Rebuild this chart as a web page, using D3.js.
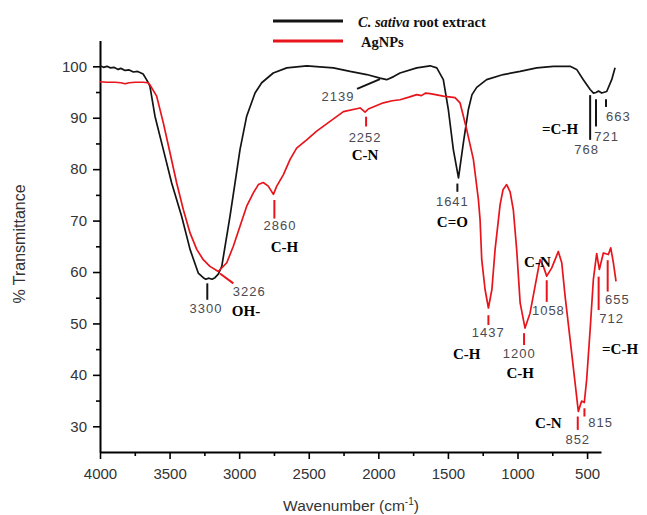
<!DOCTYPE html>
<html>
<head>
<meta charset="utf-8">
<script src="https://cdn.jsdelivr.net/npm/d3@7"></script>
<style>
  body { margin: 0; background: #fff; }
  svg { display: block; }
</style>
</head>
<body>
<svg id="chart" width="647" height="515"></svg>
<script>
// FTIR spectra: [wavenumber (cm-1), % transmittance]
const extractSpectrum = [
  [4000,100.1],[3975,99.8],[3950,100.0],[3925,99.7],[3900,99.8],[3870,99.4],[3850,99.6],
  [3820,99.2],[3790,99.3],[3760,98.9],[3730,99.0],[3705,98.7],[3690,98.5],[3670,97.6],
  [3655,96.9],[3641,96.1],[3605,90.3],[3545,83.8],[3485,77.3],[3413,70.8],[3353,64.4],
  [3294,59.8],[3258,58.9],[3240,58.6],[3217,58.8],[3195,58.6],[3174,58.9],[3150,59.6],
  [3125,61.1],[3066,70.8],[3030,77.3],[2994,83.8],[2946,90.3],[2886,94.8],[2838,96.8],
  [2755,98.7],[2658,99.7],[2514,100.1],[2420,99.9],[2323,99.7],[2203,99.0],[2083,98.4],
  [1988,97.7],[1940,97.4],[1890,98.0],[1844,98.7],[1724,99.7],[1628,100.1],[1580,99.7],
  [1533,97.4],[1497,91.6],[1461,83.8],[1424,78.3],[1389,85.1],[1353,91.6],[1327,94.5],
  [1293,95.9],[1222,97.4],[1102,98.4],[981,99.0],[862,99.7],[742,100.0],[622,100.0],
  [575,99.4],[527,97.4],[478,95.5],[454,94.8],[436,94.9],[418,95.2],[395,94.8],
  [359,95.1],[323,97.4],[299,99.7]
];

const agnpSpectrum = [
  [4000,97.0],[3950,96.9],[3892,96.9],[3850,96.8],[3820,96.6],[3790,96.8],[3748,96.9],
  [3691,96.9],[3655,96.8],[3641,96.4],[3593,94.2],[3545,89.0],[3497,83.2],[3449,77.3],
  [3401,72.1],[3353,67.6],[3305,64.4],[3258,62.4],[3210,61.1],[3150,60.1],[3089,61.8],
  [3042,65.0],[2994,68.9],[2946,72.8],[2898,75.4],[2862,77.0],[2827,77.4],[2791,76.7],
  [2754,75.1],[2730,76.7],[2683,78.9],[2634,81.9],[2587,84.1],[2515,85.7],[2443,87.4],
  [2347,89.3],[2251,91.2],[2131,91.9],[2095,91.1],[2072,91.7],[1964,92.9],[1900,93.3],
  [1844,93.5],[1780,94.0],[1724,94.5],[1690,94.3],[1660,94.8],[1628,94.7],[1533,94.2],
  [1449,93.9],[1413,92.9],[1365,87.7],[1317,81.9],[1281,74.1],[1269,70.2],[1257,62.4],
  [1233,56.6],[1209,53.0],[1184,56.6],[1161,64.4],[1137,70.2],[1125,73.1],[1104,76.0],
  [1078,77.0],[1053,75.6],[1030,72.1],[1006,64.4],[981,54.0],[946,49.1],[910,52.0],
  [874,57.2],[838,62.4],[814,61.1],[790,59.2],[754,60.8],[730,62.4],[707,64.0],
  [682,61.8],[658,55.3],[622,46.9],[586,38.4],[563,32.9],[539,34.9],[520,34.6],
  [503,39.1],[478,48.8],[455,58.5],[431,63.6],[412,60.5],[383,63.7],[347,63.4],
  [330,64.7],[311,61.8],[292,58.2]
];

const seriesNames = ["root extract", "AgNPs"];
const xMajorTicks = [4000, 3500, 3000, 2500, 2000, 1500, 1000, 500];
const xMinorTicks = [3750, 3250, 2750, 2250, 1750, 1250, 750];
const yMajorTicks = [30, 40, 50, 60, 70, 80, 90, 100];
const yMinorTicks = [35, 45, 55, 65, 75, 85, 95];

// Peak marker segments: [wn1, T1, wn2, T2, series]
const peakMarks = [
  [2153, 95.6, 1988, 97.5, 0],
  [1432, 77.2, 1432, 75.6, 0],
  [478, 94.4, 478, 85.7, 0],
  [436, 93.6, 436, 88.3, 0],
  [364, 93.6, 364, 92.1, 0],
  [3229, 57.8, 3229, 54.6, 0],
  [2088, 90.2, 2088, 88.3, 1],
  [2747, 74.0, 2747, 70.4, 1],
  [3138, 59.7, 3042, 57.8, 1],
  [1209, 51.6, 1209, 49.7, 1],
  [953, 48.1, 953, 45.8, 1],
  [790, 58.4, 790, 54.2, 1],
  [417, 59.1, 417, 52.6, 1],
  [352, 62.3, 352, 56.2, 1],
  [567, 31.9, 567, 29.3, 1],
  [519, 33.5, 519, 31.9, 1]
];

// Peak wavenumber labels: [text, wn, T]
const peakLabels = [
  ["2139", 2290, 94.1], ["2252", 2095, 86.2], ["1641", 1468, 73.7],
  ["768", 503, 83.9], ["721", 359, 86.4], ["663", 275, 90.2],
  ["2860", 2706, 69.0], ["3300", 3239, 52.9], ["3226", 2927, 56.2],
  ["1437", 1210, 48.2], ["1200", 987, 44.1], ["1058", 778, 52.6],
  ["655", 283, 54.7], ["712", 323, 51.0], ["852", 567, 27.5], ["815", 402, 30.7]
];

// Functional group labels: [text, wn, T]
const groupLabels = [
  ["C-N", 2095, 82.8], ["C=O", 1468, 69.8], ["=C-H", 694, 87.9],
  ["C-H", 2675, 64.9], ["OH-", 2951, 52.5], ["C-H", 1365, 44.1],
  ["C-H", 981, 40.4], ["C-N", 857, 61.9], ["=C-H", 263, 45.0], ["C-N", 778, 30.6]
];

const colors = ["#141414", "#e8141b"];

const svg = d3.select("#chart");
const x = d3.scaleLinear().domain([4000, 400]).range([100, 601]);
const y = d3.scaleLinear().domain([25, 105]).range([452, 40.6]);

const sans = "'Liberation Sans', Arial, Helvetica, sans-serif";
const serif = "'Liberation Serif', 'Times New Roman', serif";

// Axes
const xAxis = svg.append("g").attr("transform", "translate(0,452)")
  .call(d3.axisBottom(x).tickValues(xMajorTicks).tickSize(7).tickSizeOuter(0).tickPadding(9)
    .tickFormat(d3.format("d")));
svg.append("g").attr("transform", "translate(0,452)")
  .call(d3.axisBottom(x).tickValues(xMinorTicks).tickSize(4).tickSizeOuter(0).tickFormat(""))
  .select(".domain").remove();

const yAxis = svg.append("g").attr("transform", "translate(100,0)")
  .call(d3.axisLeft(y).tickValues(yMajorTicks).tickSize(7).tickSizeOuter(0).tickPadding(6)
    .tickFormat(d3.format("d")));
svg.append("g").attr("transform", "translate(100,0)")
  .call(d3.axisLeft(y).tickValues(yMinorTicks).tickSize(4).tickSizeOuter(0).tickFormat(""))
  .select(".domain").remove();

svg.selectAll(".domain").attr("stroke", "#000").attr("stroke-width", 2);
svg.selectAll(".tick line").attr("stroke", "#000").attr("stroke-width", 1.6);
svg.selectAll(".tick text").attr("font-family", sans).attr("font-size", 15).attr("fill", "#333");

// Axis titles
const xTitle = svg.append("text")
  .attr("x", 351).attr("y", 511)
  .attr("text-anchor", "middle")
  .attr("font-family", sans).attr("font-size", 15.5).attr("fill", "#333");
xTitle.append("tspan").text("Wavenumber (cm");
xTitle.append("tspan").attr("dy", -6).attr("font-size", 10).text("-1");
xTitle.append("tspan").attr("dy", 6).text(")");

svg.append("text")
  .attr("transform", "translate(25,244) rotate(-90)")
  .attr("text-anchor", "middle")
  .attr("font-family", sans).attr("font-size", 16).attr("fill", "#333")
  .text("% Transmittance");

// Spectra
const line = d3.line().x(d => x(d[0])).y(d => y(d[1]));
[extractSpectrum, agnpSpectrum].forEach((s, i) => {
  svg.append("path").datum(s)
    .attr("d", line)
    .attr("fill", "none")
    .attr("stroke", colors[i])
    .attr("stroke-width", 1.7)
    .attr("stroke-linejoin", "round");
});

// Peak markers
svg.append("g").selectAll("line").data(peakMarks).join("line")
  .attr("x1", d => x(d[0])).attr("y1", d => y(d[1]))
  .attr("x2", d => x(d[2])).attr("y2", d => y(d[3]))
  .attr("stroke", d => colors[d[4]])
  .attr("stroke-width", 2);

svg.append("g").selectAll("text").data(peakLabels).join("text")
  .attr("x", d => x(d[1])).attr("y", d => y(d[2]))
  .attr("text-anchor", "middle").attr("dominant-baseline", "central")
  .attr("font-family", sans).attr("font-size", 13).attr("letter-spacing", 1)
  .attr("fill", "#4a4a52")
  .text(d => d[0]);

svg.append("g").selectAll("text").data(groupLabels).join("text")
  .attr("x", d => x(d[1])).attr("y", d => y(d[2]))
  .attr("text-anchor", "middle").attr("dominant-baseline", "central")
  .attr("font-family", serif).attr("font-size", 15).attr("font-weight", "bold")
  .attr("fill", "#000")
  .text(d => d[0]);

// Legend
const legend = svg.append("g");
[0, 1].forEach(i => {
  legend.append("line")
    .attr("x1", 273).attr("x2", 343)
    .attr("y1", 21 + i * 20).attr("y2", 21 + i * 20)
    .attr("stroke", colors[i]).attr("stroke-width", 3);
});
const l1 = legend.append("text").attr("x", 358).attr("y", 26.5)
  .attr("font-family", serif).attr("font-size", 14.5).attr("font-weight", "bold").attr("fill", "#111");
l1.append("tspan").attr("font-style", "italic").text("C. sativa");
l1.append("tspan").text(" " + seriesNames[0]);
legend.append("text").attr("x", 361).attr("y", 46.5)
  .attr("font-family", serif).attr("font-size", 14.5).attr("font-weight", "bold").attr("fill", "#111")
  .text(seriesNames[1]);
</script>
</body>
</html>
